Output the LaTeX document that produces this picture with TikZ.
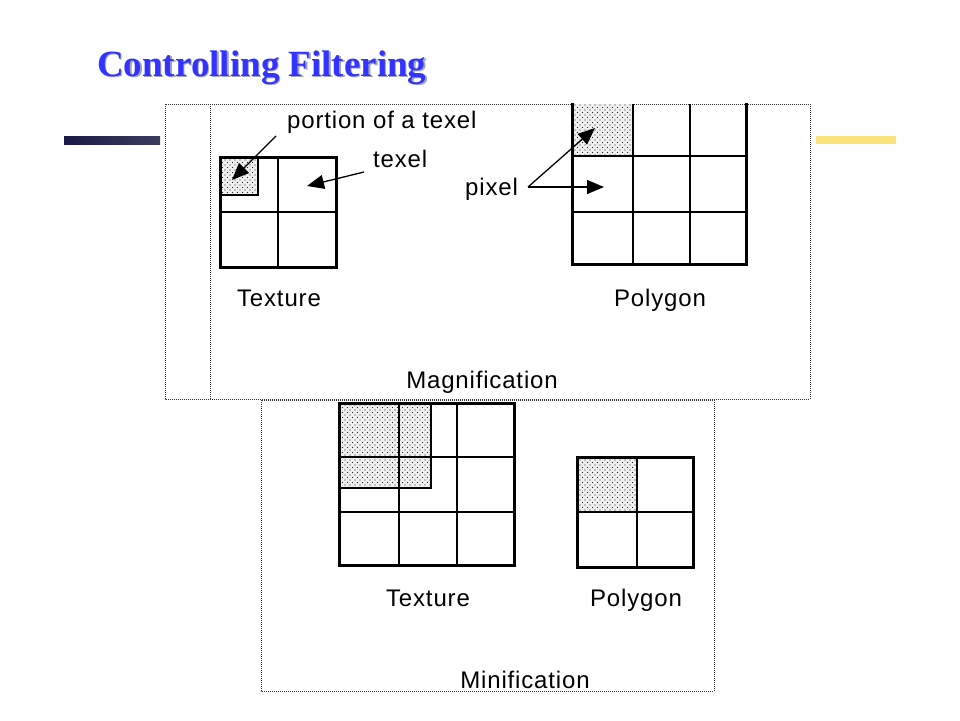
\documentclass[tikz,border=0pt]{standalone}
\usepackage{fontspec}
\setmainfont[LetterSpace=3.5]{Liberation Sans}
\newfontfamily\titlefont{Liberation Serif}
\usetikzlibrary{arrows.meta,patterns.meta}
\tikzdeclarepattern{name=texdots,type=uncolored,
  bottom left={(-1pt,-1pt)},top right={(6pt,6pt)},tile size={(5pt,5pt)},
  code={\fill (0pt,0pt) circle (0.65pt); \fill (2.5pt,2.5pt) circle (0.65pt);}}
\definecolor{titleblue}{RGB}{51,51,255}
\definecolor{navyL}{RGB}{26,26,70}
\definecolor{navyR}{RGB}{60,60,95}
\definecolor{barY}{RGB}{250,226,122}
\begin{document}
\begin{tikzpicture}[x=1pt,y=-1pt,
  frame/.style={draw=black!80,line width=0.9pt,dash pattern=on 1pt off 1pt},
  outerline/.style={line width=3pt,line cap=rect},
  innerline/.style={line width=1.4pt},
  dotfill/.style={fill=gray!12,postaction={pattern=texdots,pattern color=black!85}},
  lbl/.style={font=\fontsize{24}{28}\selectfont,inner sep=0pt,anchor=base},
  arr/.style={-{Triangle[length=17pt,width=14pt]},line width=1.3pt}]
\useasboundingbox (0,0) rectangle (960,720);
% title
\node[anchor=base west,inner sep=0pt,text=black!35,font=\titlefont\bfseries\fontsize{37}{40}\selectfont] (titleshadow) at (98.5,77.5) {Controlling Filtering};
\node[anchor=base west,inner sep=0pt,text=titleblue,font=\titlefont\bfseries\fontsize{37}{40}\selectfont] (title) at (97,76) {Controlling Filtering};
% bars
\shade[left color=navyL,right color=navyR] (64,136) rectangle (160,144);
\fill[barY] (816,136) rectangle (896,144);
% frames
\fill[white] (165,104) rectangle (810,399);
\draw[frame] (165,104) rectangle (810,399);
\draw[frame] (210,104) -- (210,399);
\draw[frame] (261,400) rectangle (714,691);
% magnification texture
\path[dotfill] (220,157) rectangle (258,195);
\draw[line width=1.1pt] (220,195) -- (258,195) -- (258,157);
\draw[innerline] (278,157) -- (278,267) (220,212) -- (336,212);
\draw[outerline] (220,157) rectangle (336,267);
% magnification polygon
\path[dotfill] (572,104) rectangle (633,156);
\draw[innerline] (633,104) -- (633,264) (690,104) -- (690,264) (572,156) -- (746,156) (572,212) -- (746,212);
\draw[outerline] (572,104) -- (572,264) -- (746,264) -- (746,104);
% labels magnification
\node[lbl,anchor=base west] (portion) at (287,128) {portion of a texel};
\node[lbl,anchor=base west] (texel) at (373,167) {texel};
\node[lbl,anchor=base west] (pixel) at (465,195) {pixel};
\coordinate (ptip) at (232,180);
\coordinate (ttip) at (307,186);
\coordinate (pxtipA) at (595,128);
\coordinate (pxtipB) at (604,187);
\coordinate (pxstart) at (528,187);
\draw[arr] ([xshift=-11pt,yshift=-8pt]portion.base west) -- (ptip);
\draw[arr] ([xshift=-9pt,yshift=-5pt]texel.base west) -- (ttip);
\draw[arr] (pxstart) -- (pxtipA);
\draw[arr] (pxstart) -- (pxtipB);
\node[lbl] (magtex) at (279,306) {Texture};
\node[lbl] (magpoly) at (660,306) {Polygon};
\node[lbl] (mag) at (482,388) {Magnification};
% minification texture
\path[dotfill] (339,403) rectangle (431,488);
\draw[innerline] (399,403) -- (399,565) (457,403) -- (457,565) (339,457) -- (514,457) (339,512) -- (514,512);
\draw[line width=2.4pt] (339,488) -- (431,488) -- (431,403);
\draw[outerline] (339,403) rectangle (514,565);
% minification polygon
\path[dotfill] (577,457) rectangle (637,512);
\draw[innerline] (637,457) -- (637,567) (577,512) -- (693,512);
\draw[outerline] (577,457) rectangle (693,567);
\node[lbl] (mintex) at (428,606) {Texture};
\node[lbl] (minpoly) at (636,606) {Polygon};
\node[lbl] (min) at (525,688) {Minification};
\end{tikzpicture}
\end{document}
